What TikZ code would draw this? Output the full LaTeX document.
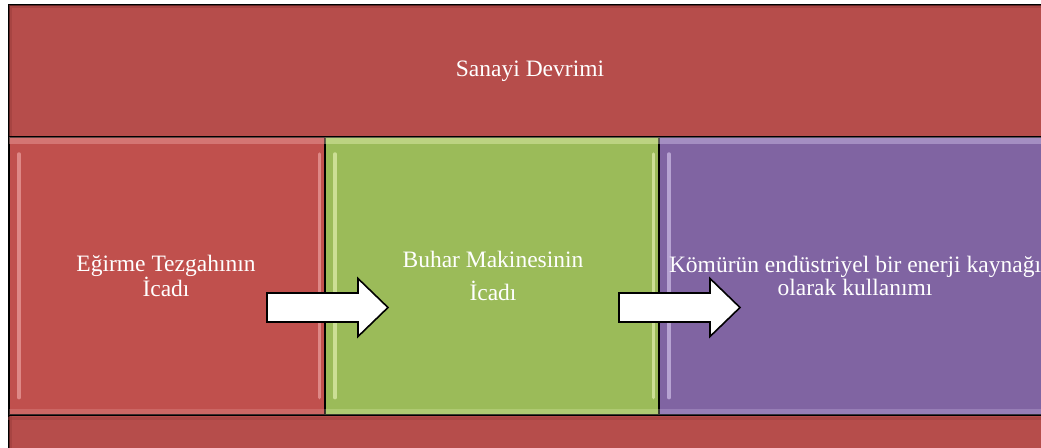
\documentclass[tikz,border=0pt]{standalone}
\usepackage{fontspec}
\setmainfont{Liberation Serif}
\definecolor{outerred}{HTML}{B64D4B}
\definecolor{outerdark}{HTML}{9E3E3C}
\definecolor{cred}{HTML}{C0504D}
\definecolor{credhl}{HTML}{F2AEAC}
\definecolor{cgreen}{HTML}{9BBB59}
\definecolor{cgreenhl}{HTML}{EEF8BE}
\definecolor{cpurple}{HTML}{8064A2}
\definecolor{cpurplehl}{HTML}{DCCDF2}
\tikzset{
  stagebox/.style={draw=black, line width=1.6pt, anchor=north west, minimum height=278pt, inner sep=0pt},
  txt/.style={text=white, font=\fontsize{23.5}{23}\selectfont, align=center, inner sep=0pt},
  blockarrow/.style={draw=black, line width=1.6pt, fill=white, line join=miter},
  hl/.style={line width=3.5pt, line cap=round, opacity=.6},
}
\newcommand{\bevel}[3]{%
  \fill[#2, opacity=.40] ([shift={(1,1)}]#1.north west) rectangle ([shift={(-1,8)}]#1.north east);
  \fill[#2, opacity=.25] ([shift={(1,-7)}]#1.south west) rectangle ([shift={(-1,-1)}]#1.south east);
  \draw[hl, #2] ([shift={(11,18)}]#1.north west) -- ([shift={(11,-18)}]#1.south west);
  \draw[hl, #2] ([shift={(-6,18)}]#1.north east) -- ([shift={(-6,-18)}]#1.south east);
}
\begin{document}
\begin{tikzpicture}[x=1pt,y=-1pt]
\useasboundingbox (0,0) rectangle (1041,447);
\fill[white] (0,0) rectangle (1041,447);
\begin{scope}
\clip (0,0) rectangle (1041,447);
% outer frame
\node[draw=black, line width=2pt, fill=outerred, anchor=north west, minimum width=1060pt, minimum height=460pt, inner sep=0pt] (outer) at (7.5,3.5) {};
\draw[outerdark, line width=3pt, opacity=.6] ([shift={(3,480)}]outer.north west) -- ([shift={(3,3)}]outer.north west) -- ([shift={(1100,3)}]outer.north west);
\node[txt] (title) at (530,71) {Sanayi Devrimi};
% stages
\node[stagebox, fill=cred, minimum width=316pt] (b1) at (8,136) {};
\node[stagebox, fill=cgreen, minimum width=334pt] (b2) at (324,136) {};
\node[stagebox, fill=cpurple, minimum width=394pt] (b3) at (658,136) {};
\bevel{b1}{credhl}{}
\bevel{b2}{cgreenhl}{}
\bevel{b3}{cpurplehl}{}
\draw[outerdark, line width=3pt, opacity=.5] ([shift={(0,3)}]b1.south west) -- ([shift={(0,3)}]b3.south east);
\node[txt] (t1) at (166,276) {Eğirme Tezgahının\\İcadı};
\node[txt, font=\fontsize{23.5}{33}\selectfont] (t2) at (493,276) {Buhar Makinesinin\\İcadı};
\node[txt] (t3) at (855,276) {Kömürün endüstriyel bir enerji kaynağı\\olarak kullanımı};
% arrows
\coordinate (a1) at (267,307.5);
\coordinate (a2) at (619,307.5);
\foreach \a in {a1,a2}{
  \draw[blockarrow] (\a) ++(0,-14.5) -- ++(91,0) -- ++(0,-14.5) -- ++(30,29) -- ++(-30,29) -- ++(0,-14.5) -- ++(-91,0) -- cycle;
}
\end{scope}
\end{tikzpicture}
\end{document}
